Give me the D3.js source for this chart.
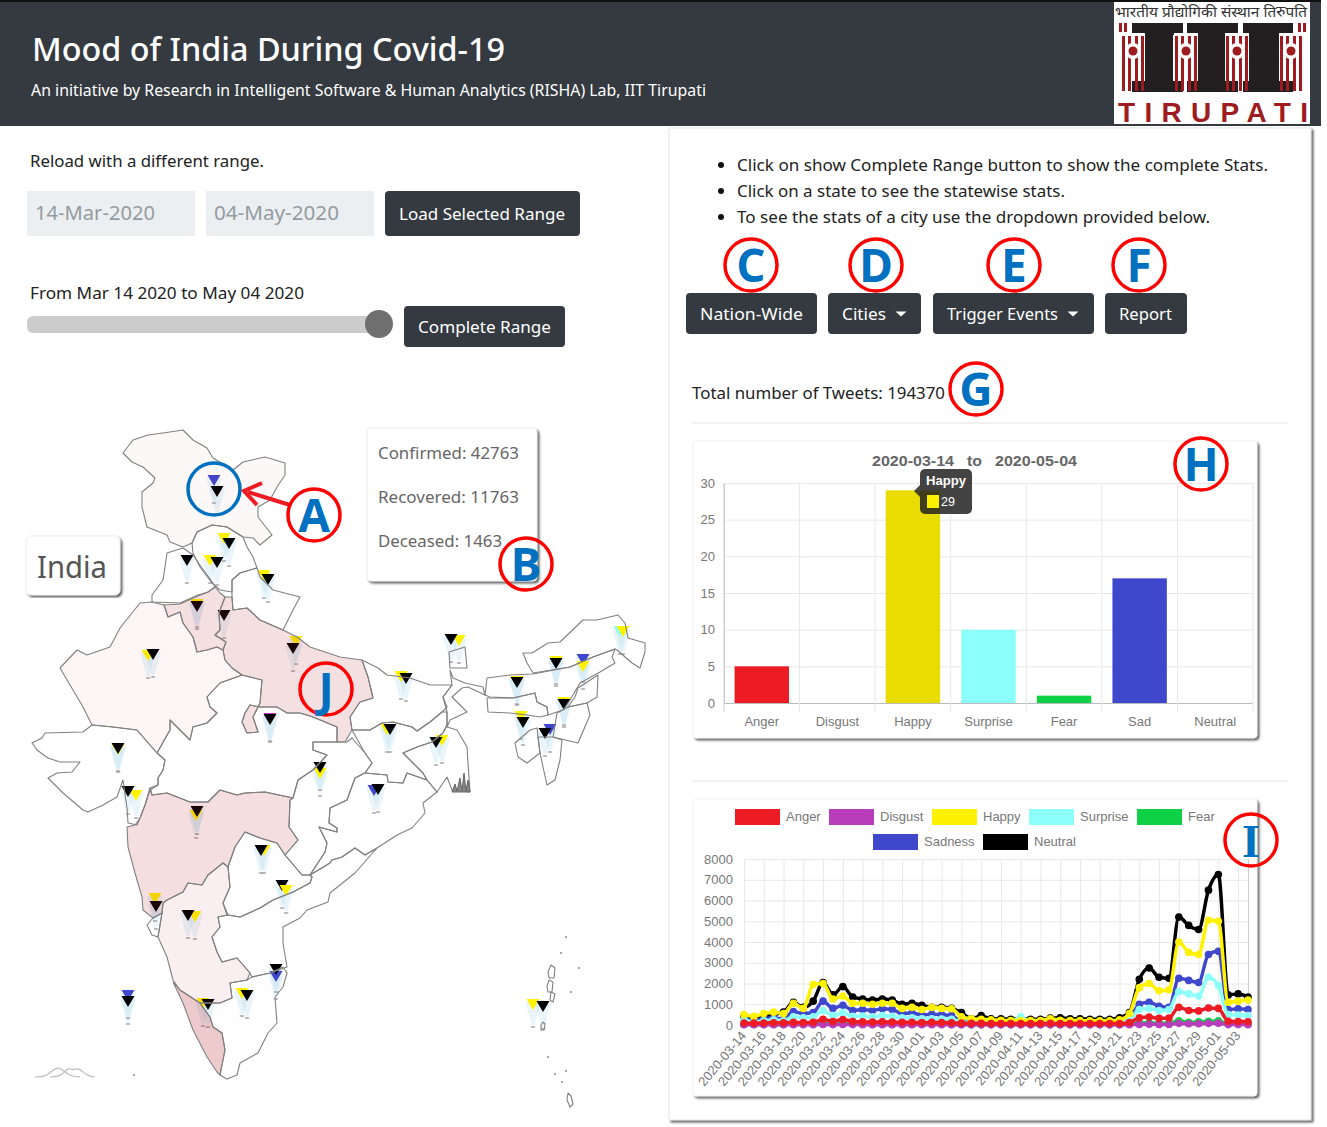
<!DOCTYPE html>
<meta charset="utf-8">
<script src="https://d3js.org/d3.v7.min.js"></script>
<style>
  body { margin: 0; background: #fff; }
  text { font-family: "Noto Sans", sans-serif; }
  .chart text { font-family: "Liberation Sans", Arial, sans-serif; }
</style>
<body>
<svg id="page" width="1327" height="1127"></svg>

<script>
// ---- bar chart data
const barCategories = ["Anger", "Disgust", "Happy", "Surprise", "Fear", "Sad", "Neutral"];
const barValues = [5, 0, 29, 10, 1, 17, 0];
const barColors = ["#ed1c24", "#b83dba", "#e8dc00", "#8cfffb", "#0ed145", "#3f48cc", "#000"];
const barTicks = [0, 5, 10, 15, 20, 25, 30];

// ---- line chart data, one value per day
const dates = d3.timeDays(new Date(2020, 2, 14), new Date(2020, 4, 5)).map(d3.timeFormat("%Y-%m-%d"));
const angerCounts = [100,90,100,110,110,130,120,130,280,170, 260,170,150,140,160,140,130,130,120,130, 120,110,90,80,80,70,70,70,70,70, 70,80,70,70,70,70,70,70,70,120, 350,380,320,340,850,700,680,820,800,180, 170,160];
const disgustCounts = [10,10,10,10,10,15,12,15,30,20, 25,20,18,15,18,15,15,15,12,12, 12,10,8,8,8,8,8,8,8,8, 8,8,8,8,8,8,8,8,8,15, 30,35,30,30,80,60,60,80,90,20, 20,18];
const happyCounts = [500,420,550,620,550,1050,800,1950,2000,1250, 1400,1050,1050,1000,1050,1050,800,850,750,850, 800,780,400,300,280,250,230,220,220,220, 220,300,230,220,210,200,200,200,250,550, 1800,2000,1650,1700,4000,3500,3400,5050,5000,1100, 1150,1200];
const surpriseCounts = [250,150,200,250,200,400,350,400,700,450, 600,420,430,400,450,420,350,350,300,300, 290,280,150,130,120,120,120,120,400,130, 130,200,130,120,120,120,120,120,120,250, 750,800,700,750,1600,1500,1400,2300,1900,500, 480,450];
const fearCounts = [30,25,30,30,30,40,35,40,80,50, 70,50,45,40,45,40,40,40,35,35, 35,30,25,20,20,20,20,20,20,20, 20,20,20,20,20,20,20,20,20,40, 100,110,90,100,200,130,150,180,200,50, 50,45];
const sadnessCounts = [350,220,300,350,280,650,550,600,1150,800, 950,700,750,700,780,750,550,580,480,520, 500,450,180,150,140,130,130,130,130,130, 130,140,130,130,130,130,130,130,130,300, 1000,1100,900,850,2250,2150,2050,3400,3550,750, 780,750];
const neutralCounts = [420,380,430,520,620,1100,850,1150,2050,1450, 1850,1350,1250,1200,1250,1200,1000,1050,950,850, 850,800,600,300,450,300,300,280,300,280, 280,330,350,300,300,280,280,280,350,600, 2200,2750,2300,2250,5200,4800,4600,6500,7250,1450, 1500,1350];
const lineNames = ["Anger", "Disgust", "Happy", "Surprise", "Fear", "Sadness", "Neutral"];
const lineValues = [angerCounts, disgustCounts, happyCounts, surpriseCounts, fearCounts, sadnessCounts, neutralCounts];
const lineColors = ["#ed1c24", "#b83dba", "#fff200", "#8cfffb", "#0ed145", "#3f48cc", "#000"];
const lineTicks = [0, 1000, 2000, 3000, 4000, 5000, 6000, 7000, 8000];

// ---- base map, outlines in pre-projected map units
const stateShapes = {
  jammuKashmir: [[123,453],[133,440],[148,435],[163,433],[183,430],[193,440],[207,448],[213,458],[233,470],[243,462],[265,457],[285,463],[285,475],[277,487],[270,500],[258,507],[258,517],[272,535],[260,545],[253,538],[243,537],[227,527],[212,525],[197,532],[192,543],[183,547],[170,542],[167,535],[147,527],[142,507],[142,492],[153,483],[155,478],[143,467],[132,462]],
  himachal: [[192,543],[197,532],[212,525],[227,527],[243,537],[247,547],[253,557],[257,568],[240,573],[232,580],[232,592],[220,590],[212,583],[200,567],[193,553]],
  punjab: [[167,553],[183,548],[193,555],[202,568],[213,583],[215,587],[208,592],[198,595],[180,603],[152,602],[152,595],[163,580],[165,567]],
  uttarakhand: [[232,580],[240,573],[257,568],[260,577],[273,590],[300,597],[293,610],[283,630],[260,620],[247,608],[233,610],[232,597]],
  haryana: [[164,605],[180,604],[198,596],[208,592],[215,587],[220,593],[225,597],[219,613],[220,630],[215,635],[226,642],[223,650],[217,647],[207,650],[197,652],[193,637],[183,623],[180,612],[168,617]],
  rajasthan: [[152,602],[164,605],[168,617],[180,612],[183,623],[193,637],[197,652],[207,650],[217,647],[223,650],[225,660],[232,668],[242,675],[220,683],[207,697],[210,707],[217,713],[207,723],[193,727],[190,740],[177,727],[170,720],[170,730],[157,753],[137,730],[113,727],[92,725],[83,707],[60,668],[77,650],[87,655],[110,647],[120,628],[140,603]],
  uttarPradesh: [[233,610],[247,608],[260,620],[283,630],[297,637],[310,647],[340,657],[362,660],[368,677],[373,698],[360,702],[350,717],[352,730],[345,742],[337,742],[337,727],[313,717],[300,713],[287,713],[277,707],[260,707],[250,705],[245,713],[242,722],[247,733],[258,732],[253,717],[260,703],[262,680],[242,675],[232,668],[225,660],[223,650],[226,642],[215,635],[220,630],[219,613],[225,597],[232,597]],
  gujarat: [[92,725],[113,727],[137,730],[157,753],[165,760],[163,770],[158,778],[158,785],[150,790],[145,805],[140,818],[137,825],[128,823],[127,808],[123,780],[117,797],[103,805],[88,812],[83,810],[63,793],[48,778],[57,773],[72,772],[80,762],[60,762],[48,758],[37,750],[32,743],[42,738],[45,733],[83,732]],
  madhyaPradesh: [[157,753],[170,730],[170,720],[177,727],[190,740],[193,727],[207,723],[217,713],[210,707],[207,697],[220,683],[242,675],[262,680],[260,703],[253,717],[258,732],[247,733],[242,722],[245,713],[250,705],[260,707],[277,707],[287,713],[300,713],[313,717],[337,727],[337,742],[313,742],[313,750],[327,755],[313,770],[298,780],[293,798],[265,792],[245,793],[237,795],[220,790],[208,802],[190,802],[167,793],[152,795],[150,788],[158,785],[158,778],[163,770],[165,760]],
  chhattisgarh: [[347,742],[352,738],[365,753],[372,763],[365,773],[355,778],[347,800],[330,808],[329,823],[337,828],[337,832],[319,827],[327,843],[325,852],[310,875],[302,875],[285,855],[298,840],[289,827],[290,800],[293,798],[298,780],[313,770],[327,755],[313,750],[313,742],[337,742]],
  jharkhand: [[352,730],[370,730],[382,723],[393,722],[412,727],[417,731],[430,722],[442,712],[447,712],[447,725],[443,733],[432,742],[417,747],[403,753],[423,773],[427,780],[407,773],[403,783],[388,782],[387,775],[365,773],[372,763],[365,753]],
  bihar: [[362,660],[378,668],[387,675],[410,678],[430,685],[452,685],[443,697],[447,707],[442,712],[430,722],[417,731],[412,727],[393,722],[382,723],[370,730],[352,730],[350,717],[360,702],[373,698],[368,677]],
  westBengal: [[450,670],[453,678],[465,683],[483,687],[485,695],[468,687],[462,688],[452,697],[467,712],[450,720],[447,727],[457,730],[467,747],[468,763],[470,792],[452,790],[447,777],[437,792],[427,780],[423,773],[403,753],[417,747],[432,742],[443,733],[447,725],[447,712],[443,697],[452,685]],
  sikkim: [[449,652],[465,647],[467,668],[450,668]],
  odisha: [[365,773],[387,775],[388,782],[403,783],[407,773],[427,780],[437,792],[423,803],[425,813],[412,828],[397,835],[377,848],[365,855],[355,848],[342,857],[332,860],[330,863],[310,875],[325,852],[327,843],[319,827],[337,832],[337,828],[329,823],[330,808],[347,800],[355,778]],
  maharashtra: [[135,825],[127,827],[128,847],[135,873],[142,897],[143,910],[153,918],[162,913],[163,903],[167,900],[183,892],[188,883],[202,885],[208,875],[223,863],[228,867],[235,847],[245,832],[260,838],[277,843],[285,855],[298,840],[289,827],[290,800],[293,798],[265,792],[245,793],[237,795],[220,790],[208,802],[190,802],[167,793],[152,795],[150,788],[145,805],[140,818]],
  goa: [[153,918],[162,913],[160,925],[158,937],[152,935],[147,925]],
  karnataka: [[158,937],[167,957],[173,980],[180,990],[200,1003],[220,1003],[232,998],[230,983],[247,980],[250,973],[237,958],[222,962],[217,952],[212,937],[220,927],[218,917],[227,915],[223,903],[230,887],[228,867],[223,863],[208,875],[202,885],[188,883],[183,892],[167,900],[163,903],[162,913],[160,925]],
  kerala: [[173,982],[180,990],[200,1003],[210,1017],[213,1027],[222,1033],[225,1050],[220,1075],[217,1072],[207,1057],[193,1030],[183,1003]],
  tamilNadu: [[200,1003],[220,1003],[232,998],[230,983],[247,980],[252,977],[270,973],[283,967],[287,973],[283,987],[275,997],[277,1023],[268,1033],[258,1053],[240,1063],[237,1075],[227,1079],[220,1075],[225,1050],[222,1033],[213,1027],[210,1017]],
  telangana: [[228,867],[235,847],[245,832],[260,838],[277,843],[285,855],[302,875],[310,875],[312,877],[310,883],[293,892],[273,900],[260,908],[240,917],[228,915],[223,903],[230,887]],
  andhraPradesh: [[218,917],[228,915],[240,917],[260,908],[273,900],[293,892],[310,883],[312,877],[310,875],[330,863],[332,860],[342,857],[355,848],[365,855],[377,848],[355,873],[330,893],[328,902],[307,910],[300,918],[283,927],[283,943],[287,967],[270,973],[252,977],[250,973],[237,958],[222,962],[217,952],[212,937],[220,927]],
  arunachal: [[523,653],[532,653],[548,643],[560,642],[583,620],[597,620],[618,615],[625,623],[628,638],[645,643],[645,652],[640,668],[632,663],[617,650],[615,649],[593,657],[570,667],[533,673],[527,663]],
  assam: [[487,678],[510,675],[533,674],[570,667],[593,657],[615,649],[612,657],[615,663],[600,672],[580,683],[570,700],[563,710],[557,712],[548,715],[547,707],[537,702],[535,693],[513,698],[490,697],[485,695]],
  meghalaya: [[487,698],[513,698],[535,693],[537,702],[547,707],[548,715],[540,717],[527,715],[510,713],[488,712]],
  nagaland: [[575,697],[578,688],[598,675],[597,697],[587,703],[568,707]],
  manipur: [[553,737],[557,713],[568,707],[587,703],[590,715],[578,743]],
  mizoram: [[538,737],[553,737],[562,740],[560,760],[555,780],[547,785],[543,767],[540,753]],
  tripura: [[515,743],[530,730],[537,728],[538,737],[540,753],[527,763],[518,757]],
  andamanNorth: [[551,965],[555,968],[554,978],[549,978],[548,972]],
  andamanMiddle: [[549,980],[553,982],[552,992],[548,992],[547,986]],
  andamanRitchie: [[551,992],[555,994],[553,1002],[550,1000]],
  littleAndaman: [[543,1022],[545,1024],[544,1030],[541,1030],[541,1025]],
  greatNicobar: [[568,1093],[571,1096],[573,1104],[570,1107],[567,1100]]
};
const sundarbans = [[452,792],[455,784],[457,791],[460,778],[462,791],[464,773],[466,791],[468,780],[470,792],[452,792]];
const islandDots = [[566,937],[561,953],[579,968],[571,992],[548,1057],[566,1071],[562,1082],[555,1074],[134,1075]];
// how much of the red covid shade each state gets
const stateShade = { jammuKashmir: 0.03, rajasthan: 0.04, haryana: 0.14, uttarPradesh: 0.14, maharashtra: 0.15, karnataka: 0.07, kerala: 0.24, tamilNadu: 0.005, andhraPradesh: 0.005, telangana: 0.005 };

// pins: top of the marker, colour. Black ones sit on top of the others
const Y = "#fff200", K = "#000", B = "#3f48cc", C = "#8cfffb", P = "#b83dba";
const cityPins = [
  [214,475,B],[217,486,K],[224,533,Y],[229,538,K],[187,555,K],[210,555,Y],[217,557,K],[264,570,Y],[268,574,K],
  [197,599,Y],[197,601,K],[224,610,K],[296,636,Y],[293,643,K],[148,650,Y],[153,649,K],[270,713,P],[270,714,K],[118,744,Y],[118,743,K],
  [459,635,Y],[451,634,K],[401,671,Y],[406,673,K],[387,724,Y],[390,724,K],[442,735,Y],[436,737,K],[374,785,B],[378,784,K],
  [517,676,Y],[517,677,K],[556,656,Y],[556,658,K],[583,654,B],[583,661,Y],[620,626,C],[623,626,Y],[564,697,Y],[564,699,K],
  [521,711,Y],[523,717,K],[550,724,B],[545,728,K],[136,790,Y],[128,786,K],[320,768,Y],[320,762,K],[196,810,Y],[197,806,K],
  [264,845,Y],[261,845,K],[282,880,K],[286,885,Y],[155,893,Y],[156,901,K],[195,911,Y],[188,910,K],[276,971,B],[276,964,K],
  [242,988,Y],[247,990,K],[203,998,Y],[208,999,K],[128,990,B],[128,996,K],[533,999,Y],[543,1001,K]
];
const peakOne = [[35,1077],[47,1077],[58,1064],[68,1076],[80,1077]];
const peakTwo = [[50,1077],[62,1076],[68,1067],[73,1071],[78,1067],[87,1076],[95,1077]];

// ---- page texts and callouts
const infoLines = ["Click on show Complete Range button to show the complete Stats.", "Click on a state to see the statewise stats.", "To see the stats of a city use the dropdown provided below."];
const statLines = ["Confirmed: 42763", "Recovered: 11763", "Deceased: 1463"];
const callouts = [["A",314,515],["B",526,564],["C",751,265],["D",876,265],["E",1014,265],["F",1139,265],["G",976,389],["H",1201,464],["I",1251,840],["J",326,689]];

const svg = d3.select("#page");
const defs = svg.append("defs");
const shadow = defs.append("filter").attr("id", "shadow").attr("x", "-5%").attr("y", "-5%").attr("width", "110%").attr("height", "110%");
shadow.append("feDropShadow").attr("dx", 2).attr("dy", 2).attr("stdDeviation", 1).attr("flood-color", "#666");

// text helper, the width is forced so it lines up with the page
function label(g, str, x, y, size, fill, width, anchor) {
  const t = g.append("text").attr("x", x).attr("y", y).attr("font-size", size).attr("fill", fill).text(str);
  if (anchor) t.attr("text-anchor", anchor);
  if (width) t.attr("textLength", width).attr("lengthAdjust", "spacingAndGlyphs");
  return t;
}
function button(g, x, y, w, h, str, tw, caret) {
  g.append("rect").attr("x", x).attr("y", y).attr("width", w).attr("height", h).attr("rx", 4).attr("fill", "#343a40");
  const tx = x + 14;
  label(g, str, tx, y + h / 2 + 6, 17, "#fff", tw);
  if (caret) {
    const cx = tx + tw + 15, cy = y + h / 2 - 2;
    g.append("path").attr("d", d3.line()([[cx - 5.5, cy], [cx + 5.5, cy], [cx, cy + 5]])).attr("fill", "#fff");
  }
}

// ---- header
svg.append("rect").attr("width", 1321).attr("height", 3).attr("fill", "#111");
svg.append("rect").attr("y", 2).attr("width", 1321).attr("height", 124).attr("fill", "#343a40");
label(svg, "Mood of India During Covid-19", 32, 61, 33, "#fff", 473).attr("font-weight", 500);
label(svg, "An initiative by Research in Intelligent Software & Human Analytics (RISHA) Lab, IIT Tirupati", 31, 96, 17, "#fff", 675);

// ---- logo
const logo = svg.append("g");
const logoRed = "#9e1b20", logoDark = "#231f20";
logo.append("rect").attr("x", 1114).attr("y", 2).attr("width", 196).attr("height", 122).attr("fill", "#fff");
label(logo, "भारतीय प्रौद्योगिकी संस्थान तिरुपति", 1115, 17, 14, "#333", 192);
[[1132, 51], [1187, 51], [1243, 50]].forEach(([x, w]) => {
  logo.append("rect").attr("x", x).attr("y", 23).attr("width", w).attr("height", 12).attr("fill", logoDark);
  logo.append("rect").attr("x", x).attr("y", 81).attr("width", w).attr("height", 11).attr("fill", logoDark);
});
[[1145, 28], [1198, 27], [1249, 30]].forEach(([x, w]) => {
  logo.append("rect").attr("x", x).attr("y", 23).attr("width", w).attr("height", 69).attr("fill", logoDark);
});
[1133, 1186, 1237, 1291].forEach(cx => {
  logo.append("rect").attr("x", cx - 12).attr("y", 33).attr("width", 24).attr("height", 48).attr("fill", "#fff");
  [-11, -5, 2, 8].forEach(dx => {
    logo.append("rect").attr("x", cx + dx).attr("y", 36).attr("width", 3).attr("height", 55).attr("fill", logoRed);
  });
  logo.append("circle").attr("cx", cx).attr("cy", 51).attr("r", 8).attr("fill", "#fff");
  logo.append("circle").attr("cx", cx).attr("cy", 51).attr("r", 4.5).attr("fill", logoRed);
});
[1119, 1124, 1298, 1303].forEach(x => {
  logo.append("rect").attr("x", x).attr("y", 23).attr("width", 3).attr("height", 9).attr("fill", logoRed);
});
label(logo, "TIRUPATI", 1118, 122, 28, logoRed, 190).attr("lengthAdjust", "spacing").style("font-family", "Liberation Sans").attr("font-weight", 700);

// ---- left controls
const controls = svg.append("g");
label(controls, "Reload with a different range.", 30, 167, 16.5, "#222", 234);
[[27, "14-Mar-2020", 120], [206, "04-May-2020", 125]].forEach(([x, str, tw]) => {
  controls.append("rect").attr("x", x).attr("y", 191).attr("width", 168).attr("height", 45).attr("fill", "#eceff1");
  label(controls, str, x + 8, 220, 20, "#949ba1", tw);
});
button(controls, 385, 191, 195, 45, "Load Selected Range", 166);
label(controls, "From Mar 14 2020 to May 04 2020", 30, 299, 16.5, "#222", 274);
controls.append("rect").attr("x", 27).attr("y", 316).attr("width", 360).attr("height", 17).attr("rx", 6).attr("fill", "#ccc");
controls.append("circle").attr("cx", 379).attr("cy", 324).attr("r", 14).attr("fill", "#6f6f6f");
button(controls, 404, 306, 161, 41, "Complete Range", 133);

// ---- map
const mapGroup = svg.append("g");
const geoPath = d3.geoPath(d3.geoIdentity());
const stateFeatures = Object.entries(stateShapes).map(([name, ring]) => ({
  type: "Feature", properties: { name },
  geometry: { type: "Polygon", coordinates: [ring.concat([ring[0]])] }
}));

mapGroup.selectAll("path.pinCone").data(cityPins).join("path").attr("class", "pinCone")
  .attr("d", d => d3.line()([[d[0] - 8, d[1] + 3], [d[0] + 8, d[1] + 3], [d[0] + 5, d[1] + 13], [d[0] + 1.5, d[1] + 26], [d[0] - 1.5, d[1] + 26], [d[0] - 5, d[1] + 13]]))
  .attr("fill", "#a9d8ea").attr("opacity", 0.26);
mapGroup.selectAll("ellipse.pinFoot").data(cityPins).join("ellipse").attr("class", "pinFoot")
  .attr("cx", d => d[0]).attr("cy", d => d[1] + 28).attr("rx", 2.5).attr("ry", 0.8).attr("fill", "#999");
mapGroup.selectAll("path.pinHead").data(cityPins).join("path").attr("class", "pinHead")
  .attr("d", d => d3.line()([[d[0] - 6.5, d[1]], [d[0] + 6.5, d[1]], [d[0], d[1] + 11]]))
  .attr("fill", d => d[2]);

// states are see-through so the pins under the red ones come out brownish
mapGroup.selectAll("path.state").data(stateFeatures).join("path").attr("class", "state")
  .attr("d", geoPath)
  .attr("fill", "#b5222a")
  .attr("fill-opacity", d => stateShade[d.properties.name] || 0)
  .attr("stroke", "#808080").attr("stroke-width", 1.1).attr("stroke-linejoin", "round");
mapGroup.append("path").attr("d", d3.line()(sundarbans)).attr("fill", "#888").attr("stroke", "#666").attr("stroke-width", 1);
mapGroup.selectAll("circle.dot").data(islandDots).join("circle").attr("class", "dot")
  .attr("cx", d => d[0]).attr("cy", d => d[1]).attr("r", 1).attr("fill", "#888");
[peakOne, peakTwo].forEach(pts => {
  mapGroup.append("path").attr("d", d3.line().curve(d3.curveBasis)(pts)).attr("fill", "none").attr("stroke", "#bbb").attr("stroke-width", 1.2);
});

// India label and stats box
const indiaBox = svg.append("g");
indiaBox.append("rect").attr("x", 26).attr("y", 536).attr("width", 94).attr("height", 59).attr("rx", 5).attr("fill", "#fff").attr("stroke", "#eee").attr("filter", "url(#shadow)");
label(indiaBox, "India", 37, 578, 30, "#555", 70);
const statBox = svg.append("g");
statBox.append("rect").attr("x", 367).attr("y", 428).attr("width", 170).attr("height", 153).attr("rx", 4).attr("fill", "#fff").attr("stroke", "#eee").attr("filter", "url(#shadow)");
statLines.forEach((s, i) => label(statBox, s, 378, 459 + i * 44, 16.5, "#666", [141, 141, 124][i]));

// ---- right card
svg.append("rect").attr("x", 669).attr("y", 128).attr("width", 642).attr("height", 992).attr("fill", "#fff").attr("stroke", "#e5e5e5").attr("filter", "url(#shadow)");
const info = svg.append("g");
infoLines.forEach((s, i) => {
  const y = 171 + i * 26;
  info.append("circle").attr("cx", 721).attr("cy", y - 6).attr("r", 3).attr("fill", "#111");
  label(info, s, 737, y, 16.5, "#222", [531, 328, 473][i]);
});
button(info, 686, 293, 131, 41, "Nation-Wide", 103);
button(info, 828, 293, 93, 41, "Cities", 44, true);
button(info, 933, 293, 161, 41, "Trigger Events", 111, true);
button(info, 1105, 293, 82, 41, "Report", 53);
label(info, "Total number of Tweets: 194370", 692, 399, 16.5, "#222", 253);
[423, 781].forEach(y => info.append("line").attr("x1", 692).attr("x2", 1288).attr("y1", y).attr("y2", y).attr("stroke", "#e3e3e3"));

// ---- bar chart
const barChart = svg.append("g").attr("class", "chart");
barChart.append("rect").attr("x", 693).attr("y", 441).attr("width", 564).attr("height", 297).attr("rx", 3).attr("fill", "#fff").attr("stroke", "#f2f2f2").attr("filter", "url(#shadow)");
const barX = d3.scaleBand().domain(barCategories).range([724, 1253]).paddingInner(0.28).paddingOuter(0.14);
const barStep = barX.step();
const barY = d3.scaleLinear().domain([0, 30]).range([703, 483]);
barChart.append("g").attr("transform", "translate(724,0)")
  .call(d3.axisLeft(barY).tickValues(barTicks).tickSize(-529).tickPadding(9))
  .call(g => g.select(".domain").attr("stroke", "#ccc"))
  .call(g => g.selectAll(".tick line").attr("stroke", d => d === 0 ? "#bbb" : "#e8e8e8"))
  .call(g => g.selectAll("text").attr("font-size", 13).attr("fill", "#777"));
barChart.selectAll("line.barGrid").data(d3.range(barCategories.length + 1)).join("line").attr("class", "barGrid")
  .attr("x1", i => 724 + i * barStep).attr("x2", i => 724 + i * barStep)
  .attr("y1", 483).attr("y2", 712).attr("stroke", i => i === 0 ? "#ccc" : "#e8e8e8");
barChart.selectAll("rect.bar").data(barValues).join("rect").attr("class", "bar")
  .attr("x", (d, i) => barX(barCategories[i])).attr("width", barX.bandwidth())
  .attr("y", d => barY(d)).attr("height", d => barY(0) - barY(d))
  .attr("fill", (d, i) => barColors[i]);
barCategories.forEach(c => label(barChart, c, barX(c) + barX.bandwidth() / 2, 726, 13, "#777", null, "middle"));
label(barChart, "2020-03-14", 872, 466, 15.5, "#666", 82).attr("font-weight", 700);
label(barChart, "to", 967, 466, 15.5, "#666", 15).attr("font-weight", 700);
label(barChart, "2020-05-04", 995, 466, 15.5, "#666", 82).attr("font-weight", 700);
// tooltip on the Happy bar
const tip = barChart.append("g");
tip.append("path").attr("d", d3.line()([[920, 485], [914, 491], [920, 497]])).attr("fill", "#333").attr("opacity", 0.9);
tip.append("rect").attr("x", 920).attr("y", 469).attr("width", 52).attr("height", 45).attr("rx", 5).attr("fill", "#222").attr("opacity", 0.85);
label(tip, "Happy", 926, 485, 12.5, "#fff", 40).attr("font-weight", 700);
tip.append("rect").attr("x", 927).attr("y", 495).attr("width", 12).attr("height", 13).attr("fill", lineColors[2]);
label(tip, "29", 941, 506, 12.5, "#fff");

// ---- line chart
const lineChart = svg.append("g").attr("class", "chart");
lineChart.append("rect").attr("x", 693).attr("y", 799).attr("width", 564).attr("height", 297).attr("rx", 3).attr("fill", "#fff").attr("stroke", "#f2f2f2").attr("filter", "url(#shadow)");
const x = d3.scalePoint().domain(dates).range([744, 1248]);
const y = d3.scaleLinear().domain([0, 8000]).range([1025, 859]);
const dateTicks = dates.filter((d, i) => i % 2 === 0 && i < dates.length - 1);
lineChart.append("g").attr("transform", "translate(744,0)")
  .call(d3.axisLeft(y).tickValues(lineTicks).tickFormat(d3.format("d")).tickSize(-504).tickPadding(11))
  .call(g => g.select(".domain").attr("stroke", "#ccc"))
  .call(g => g.selectAll(".tick line").attr("stroke", "#e8e8e8"))
  .call(g => g.selectAll("text").attr("font-size", 13).attr("fill", "#777"));
lineChart.append("g").attr("transform", "translate(0,1025)")
  .call(d3.axisBottom(x).tickValues(dateTicks).tickSize(-166).tickFormat(""))
  .call(g => g.select(".domain").attr("stroke", "#ccc"))
  .call(g => g.selectAll(".tick line").attr("stroke", "#e8e8e8"));
dateTicks.forEach(d => {
  lineChart.append("text").attr("transform", `translate(${x(d) + 3},1036) rotate(-50)`)
    .attr("text-anchor", "end").attr("font-size", 13).attr("fill", "#777").text(d);
});
const lineGen = d3.line().x((d, i) => x(dates[i])).y(d => y(d)).curve(d3.curveMonotoneX);
// first dataset ends up on top, except Happy which sits over Sadness and Neutral anyway
[6, 5, 4, 3, 2, 1, 0].forEach(s => {
  const g = lineChart.append("g");
  g.append("path").attr("d", lineGen(lineValues[s])).attr("fill", "none").attr("stroke", lineColors[s]).attr("stroke-width", 3.5);
  g.selectAll("circle").data(lineValues[s]).join("circle")
    .attr("cx", (d, i) => x(dates[i])).attr("cy", d => y(d)).attr("r", 3.8).attr("fill", lineColors[s]);
});
// legend
const legendSpots = [[735, 809], [829, 809], [932, 809], [1029, 809], [1137, 809], [873, 834], [983, 834]];
lineNames.forEach((name, i) => {
  const [lx, ly] = legendSpots[i];
  lineChart.append("rect").attr("x", lx).attr("y", ly).attr("width", 45).attr("height", 16).attr("fill", lineColors[i]);
  label(lineChart, name, lx + 51, ly + 12, 13, "#777");
});

// ---- callouts drawn over the screenshot
const notes = svg.append("g");
notes.append("circle").attr("cx", 214).attr("cy", 489).attr("r", 26).attr("fill", "none").attr("stroke", "#0070c0").attr("stroke-width", 3.5);
notes.append("path").attr("d", d3.line()([[290, 505], [248, 492]])).attr("stroke", "#ed1c24").attr("stroke-width", 4).attr("fill", "none");
notes.append("path").attr("d", d3.line()([[262, 483], [244, 491], [257, 505]])).attr("stroke", "#ed1c24").attr("stroke-width", 4).attr("fill", "none");
callouts.forEach(([letter, cx, cy]) => {
  notes.append("circle").attr("cx", cx).attr("cy", cy).attr("r", 26).attr("fill", "none").attr("stroke", "#f00").attr("stroke-width", 3.5);
  notes.append("text").attr("x", cx).attr("y", cy + 17).attr("text-anchor", "middle")
    .attr("font-size", 46).attr("font-weight", 700).attr("fill", "#0070c0")
    .style("font-family", letter === "I" ? "Liberation Serif" : "Open Sans")
    .text(letter);
});
</script>
</body>
